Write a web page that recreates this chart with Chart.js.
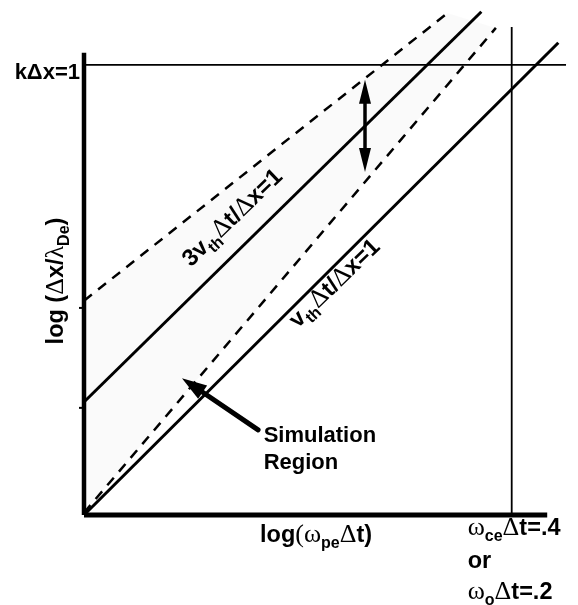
<!DOCTYPE html>
<html>
<head>
<meta charset="utf-8">
<script src="https://cdn.jsdelivr.net/npm/chart.js@4.4.1/dist/chart.umd.min.js"></script>
<style>
    html, body { margin: 0; padding: 0; background: #fff; }
</style>
</head>
<body>
<canvas id="c" width="578" height="605"></canvas>
<script>
// Schematic: log(dx/lambdaDe) vs log(wpe dt), arbitrary log units.
var X_MAX = 11.55, Y_MAX = 11.44;

var yAxisLine = [[0, 0], [0, 10.27]];
var xAxisLine = [[0, 0], [10.83, 0]];
var kdxLine = [[0, 10], [11.27, 10]];      // k dx = 1
var wceLine = [[10, 0], [10, 10.84]];      // wce dt = .4 or wo dt = .2
var vthLine = [[0, 0], [11.09, 10.49]];    // vth dt/dx = 1
var vth3Line = [[0, 2.51], [9.29, 11.18]]; // 3 vth dt/dx = 1
var upperDash = [[0, 4.76], [8.5, 11.15]];
var lowerDash = [[0, 0.05], [9.63, 10.82]];
var yTickMarks = [4.6, 2.38];
var spreadArrow = [[6.57, 9.67], [6.57, 7.62]];
var regionArrow = [[4.07, 1.89], [2.29, 3.04]];

var B = 'bold 23.5px "Liberation Sans", Arial, sans-serif';
var BS = 'bold 22px "Liberation Sans", Arial, sans-serif';
var S = 'bold 16px "Liberation Sans", Arial, sans-serif';
var G = '26px "Liberation Serif", "Times New Roman", serif';

function pts(arr) {
    return arr.map(function (p) { return { x: p[0], y: p[1] }; });
}

function line(arr, width, dash) {
    return {
        data: pts(arr),
        showLine: true,
        borderColor: '#000',
        borderWidth: width,
        borderDash: dash || [],
        borderCapStyle: 'butt',
        pointRadius: 0,
        fill: false,
        clip: false
    };
}

// draw a run of text pieces [text, font, dy], returns end x
function runs(ctx, parts, x, y) {
    parts.forEach(function (p) {
        ctx.font = p[1];
        ctx.fillText(p[0], x, y + (p[2] || 0));
        x += ctx.measureText(p[0]).width;
    });
    return x;
}

function runsWidth(ctx, parts) {
    var w = 0;
    parts.forEach(function (p) {
        ctx.font = p[1];
        w += ctx.measureText(p[0]).width;
    });
    return w;
}

function arrowHead(ctx, tx, ty, fx, fy, len, half) {
    var a = Math.atan2(ty - fy, tx - fx);
    var bx = tx - len * Math.cos(a), by = ty - len * Math.sin(a);
    ctx.beginPath();
    ctx.moveTo(tx, ty);
    ctx.lineTo(bx + half * Math.sin(a), by - half * Math.cos(a));
    ctx.lineTo(bx - half * Math.sin(a), by + half * Math.cos(a));
    ctx.closePath();
    ctx.fill();
}

var decor = {
    id: 'decor',
    beforeDatasetsDraw: function (chart) {
        var ctx = chart.ctx, xs = chart.scales.x, ys = chart.scales.y;
        var X = function (v) { return xs.getPixelForValue(v); };
        var Y = function (v) { return ys.getPixelForValue(v); };
        // faint stipple of the simulation region
        ctx.save();
        ctx.fillStyle = 'rgba(0,0,0,0.018)';
        ctx.beginPath();
        ctx.moveTo(X(upperDash[0][0]), Y(upperDash[0][1]));
        ctx.lineTo(X(upperDash[1][0]), Y(upperDash[1][1]));
        ctx.lineTo(X(lowerDash[1][0]), Y(lowerDash[1][1]));
        ctx.lineTo(X(lowerDash[0][0]), Y(lowerDash[0][1]));
        ctx.closePath();
        ctx.fill();
        ctx.restore();
    },
    afterDraw: function (chart) {
        var ctx = chart.ctx, xs = chart.scales.x, ys = chart.scales.y;
        var X = function (v) { return xs.getPixelForValue(v); };
        var Y = function (v) { return ys.getPixelForValue(v); };
        ctx.save();
        ctx.fillStyle = '#000';
        ctx.strokeStyle = '#000';
        ctx.textBaseline = 'alphabetic';

        // y tick marks
        ctx.lineWidth = 2;
        yTickMarks.forEach(function (v) {
            ctx.beginPath();
            ctx.moveTo(X(0) - 5, Y(v));
            ctx.lineTo(X(0), Y(v));
            ctx.stroke();
        });

        // double arrow between the dashed lines
        var ax = X(spreadArrow[0][0]), ay1 = Y(spreadArrow[0][1]), ay2 = Y(spreadArrow[1][1]);
        ctx.lineWidth = 3.5;
        ctx.beginPath();
        ctx.moveTo(ax, ay1 + 15);
        ctx.lineTo(ax, ay2 - 15);
        ctx.stroke();
        arrowHead(ctx, ax, ay1, ax, ay2, 24, 6);
        arrowHead(ctx, ax, ay2, ax, ay1, 24, 6);

        // simulation region pointer
        var fx = X(regionArrow[0][0]), fy = Y(regionArrow[0][1]);
        var tx = X(regionArrow[1][0]), ty = Y(regionArrow[1][1]);
        ctx.lineWidth = 5;
        ctx.lineCap = 'round';
        ctx.beginPath();
        ctx.moveTo(fx, fy);
        ctx.lineTo(tx + (fx - tx) * 0.2, ty + (fy - ty) * 0.2);
        ctx.stroke();
        arrowHead(ctx, tx, ty, fx, fy, 25, 8);

        // k dx = 1 label
        var kParts = [['k\u0394x=1', BS]];
        runs(ctx, kParts, X(0) - 4 - runsWidth(ctx, kParts), Y(10) + 14);

        // y axis title
        var yParts = [['log (', B], ['\u0394', G], ['x/', B], ['\u03bb', G], ['De', S, 6], [')', B]];
        ctx.save();
        ctx.translate(63, 281);
        ctx.rotate(-Math.PI / 2);
        runs(ctx, yParts, -runsWidth(ctx, yParts) / 2, 0);
        ctx.restore();

        // x axis title
        runs(ctx, [['log', B], ['(', G], ['\u03c9', G], ['pe', S, 6], ['\u0394', G], ['t)', B]], 260, 542);

        // limit labels
        var lx = X(10) - 44;
        runs(ctx, [['\u03c9', G], ['ce', S, 6], ['\u0394', G], ['t=.4', B]], lx, 535);
        runs(ctx, [['or', B]], lx, 568);
        runs(ctx, [['\u03c9', G], ['o', S, 6], ['\u0394', G], ['t=.2', B]], lx, 599);

        // labels along the diagonal lines
        var ang = -44 * Math.PI / 180;
        ctx.save();
        ctx.translate(X(2.5), Y(5.5));
        ctx.rotate(ang);
        runs(ctx, [['3v', B], ['th', S, 6], ['\u0394', G], ['t/', B], ['\u0394', G], ['x=1', B]], 0, 0);
        ctx.restore();

        ctx.save();
        ctx.translate(X(5.0), Y(4.14));
        ctx.rotate(ang);
        runs(ctx, [['v', B], ['th', S, 6], ['\u0394', G], ['t/', B], ['\u0394', G], ['x=1', B]], 0, 0);
        ctx.restore();

        // simulation region text
        runs(ctx, [['Simulation', BS]], X(4.2), 442);
        runs(ctx, [['Region', BS]], X(4.2), 469);

        ctx.restore();
    }
};

new Chart(document.getElementById('c'), {
    type: 'scatter',
    data: {
        datasets: [
            line(yAxisLine, 4.5),
            line(xAxisLine, 5),
            line(kdxLine, 1.8),
            line(wceLine, 1.8),
            line(vthLine, 3),
            line(vth3Line, 3),
            line(upperDash, 2.5, [10, 8]),
            line(lowerDash, 2.5, [10, 8])
        ]
    },
    options: {
        responsive: false,
        animation: false,
        events: [],
        layout: { padding: { left: 84, right: 0, top: 0, bottom: 90 } },
        plugins: {
            legend: { display: false },
            tooltip: { enabled: false }
        },
        scales: {
            x: { type: 'linear', min: 0, max: X_MAX, display: false },
            y: { type: 'linear', min: 0, max: Y_MAX, display: false }
        }
    },
    plugins: [decor]
});
</script>
</body>
</html>
